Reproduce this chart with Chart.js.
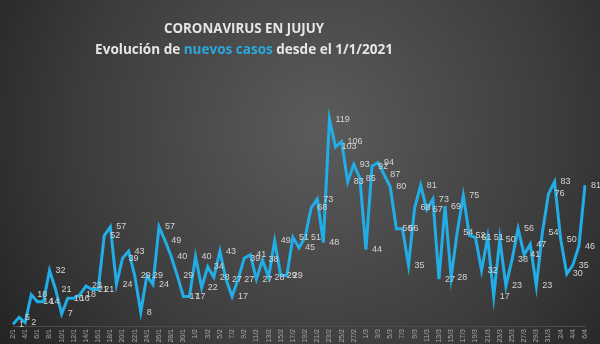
<!DOCTYPE html>
<html>
<head>
<meta charset="utf-8">
<script src="https://cdn.jsdelivr.net/npm/chart.js@4.4.0/dist/chart.umd.min.js"></script>
<style>
  html, body { margin: 0; padding: 0; background: #262626; }
  #wrap { width: 600px; height: 344px; position: relative; }
</style>
</head>
<body>
<div id="wrap"><canvas id="c"></canvas></div>
<script>
// Daily dates, 2 Jan to 6 Apr 2021
const fechas = [
  "2/1","3/1","4/1","5/1","6/1","7/1","8/1","9/1","10/1","11/1","12/1","13/1","14/1","15/1","16/1",
  "17/1","18/1","19/1","20/1","21/1","22/1","23/1","24/1","25/1","26/1","27/1","28/1","29/1","30/1","31/1",
  "1/2","2/2","3/2","4/2","5/2","6/2","7/2","8/2","9/2","10/2","11/2","12/2","13/2","14/2",
  "15/2","16/2","17/2","18/2","19/2","20/2","21/2","22/2","23/2","24/2","25/2","26/2","27/2","28/2",
  "1/3","2/3","3/3","4/3","5/3","6/3","7/3","8/3","9/3","10/3","11/3","12/3","13/3","14/3","15/3","16/3",
  "17/3","18/3","19/3","20/3","21/3","22/3","23/3","24/3","25/3","26/3","27/3","28/3","29/3","30/3","31/3",
  "1/4","2/4","3/4","4/4","5/4","6/4"
];

// New confirmed cases per day
const casos = [
  1, 5, 2, 18, 14, 14, 32, 21, 7, 16,
  16, 18, 23, 21, 21, 52, 57, 24, 39, 43,
  29, 8, 29, 24, 57, 49, 40, 29, 17, 17,
  40, 22, 34, 28, 43, 27, 17, 27, 39, 41,
  27, 38, 28, 49, 29, 29, 51, 45, 51, 68,
  73, 48, 119, 103, 106, 83, 93, 85, 44, 92,
  94, 87, 80, 56, 56, 35, 68, 81, 67, 73,
  27, 69, 28, 54, 75, 52, 51, 32, 51, 17,
  50, 23, 38, 56, 41, 47, 23, 54, 76, 83,
  50, 30, 35, 46, 81
];

const tituloLinea1 = "CORONAVIRUS EN JUJUY";
const tituloLinea2 = [
  { text: "Evolución de ", color: "#e6e6e6" },
  { text: "nuevos casos", color: "#2aa8dc" },
  { text: " desde el 1/1/2021", color: "#e6e6e6" }
];

const FONT = '"Liberation Sans", Arial, sans-serif';
const FONT_TITULO = '"Open Sans", "Liberation Sans", sans-serif';

// Dark radial background
const fondo = {
  id: 'fondo',
  beforeDraw(chart) {
    const { ctx, width, height } = chart;
    const g = ctx.createRadialGradient(320, 130, 10, 320, 130, 430);
    g.addColorStop(0, '#5a5a5a');
    g.addColorStop(0.55, '#3c3c3c');
    g.addColorStop(1, '#1c1c1c');
    ctx.save();
    ctx.fillStyle = g;
    ctx.fillRect(0, 0, width, height);
    ctx.restore();
  }
};

// Two-line heading, the second line with a highlighted phrase
const titulo = {
  id: 'titulo',
  afterDraw(chart) {
    const ctx = chart.ctx;
    const cx = 244;
    ctx.save();
    ctx.textBaseline = 'middle';
    ctx.textAlign = 'left';

    ctx.font = 'bold 13px ' + FONT_TITULO;
    let w1 = ctx.measureText(tituloLinea1).width;
    let s1 = 13 * 160 / w1;
    ctx.font = 'bold ' + s1.toFixed(2) + 'px ' + FONT_TITULO;
    w1 = ctx.measureText(tituloLinea1).width;
    ctx.fillStyle = '#e6e6e6';
    ctx.fillText(tituloLinea1, cx - w1 / 2, 29);

    ctx.font = 'bold 14px ' + FONT_TITULO;
    let full = tituloLinea2.map(p => p.text).join('');
    let w2 = ctx.measureText(full).width;
    let s2 = 14 * 298 / w2;
    ctx.font = 'bold ' + s2.toFixed(2) + 'px ' + FONT_TITULO;
    w2 = ctx.measureText(full).width;
    let x = cx - w2 / 2;
    tituloLinea2.forEach(p => {
      ctx.fillStyle = p.color;
      ctx.fillText(p.text, x, 50);
      x += ctx.measureText(p.text).width;
    });
    ctx.restore();
  }
};

// Value labels to the right of each point
const etiquetas = {
  id: 'etiquetas',
  afterDatasetsDraw(chart) {
    const ctx = chart.ctx;
    const meta = chart.getDatasetMeta(0);
    const vals = chart.data.datasets[0].data;
    ctx.save();
    ctx.font = '9px ' + FONT;
    ctx.fillStyle = '#d4d4d4';
    ctx.textAlign = 'left';
    ctx.textBaseline = 'middle';
    meta.data.forEach((p, i) => {
      ctx.fillText(String(vals[i]), p.x + 6, p.y);
    });
    ctx.restore();
  }
};

new Chart(document.getElementById('c'), {
  type: 'line',
  data: {
    labels: fechas,
    datasets: [{
      data: casos,
      borderColor: '#22ade6',
      borderWidth: 3,
      pointRadius: 0,
      tension: 0,
      fill: false
    }]
  },
  options: {
    responsive: true,
    maintainAspectRatio: false,
    animation: false,
    layout: { padding: { left: 13, right: 15, top: 100, bottom: 0 } },
    plugins: {
      legend: { display: false },
      tooltip: { enabled: false },
      title: { display: false }
    },
    scales: {
      x: {
        grid: { display: false, drawTicks: false },
        border: { display: true, color: '#4c4c4c', width: 1 },
        ticks: {
          autoSkip: false,
          minRotation: 90,
          maxRotation: 90,
          color: '#a8a8a8',
          font: { size: 7, family: FONT },
          padding: 3,
          callback: (v, i) => (i % 2 === 0 ? fechas[i] : '')
        },
        afterFit: s => { s.height = 18; }
      },
      y: { display: false, min: 0, max: 130 }
    }
  },
  plugins: [fondo, titulo, etiquetas]
});
</script>
</body>
</html>
